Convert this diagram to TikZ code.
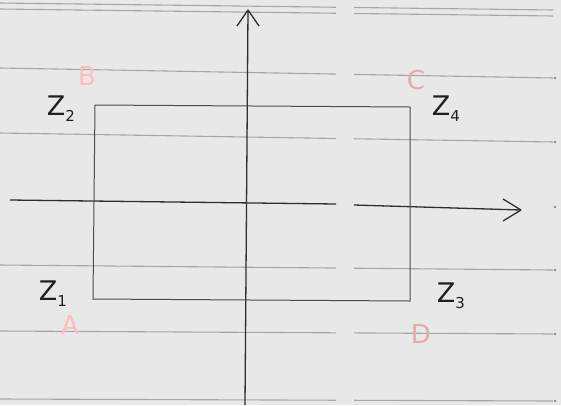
\documentclass[tikz,border=0pt]{standalone}
\usepackage{fontspec}
\setmainfont{DejaVu Sans}
\begin{document}
\begin{tikzpicture}[x=1pt,y=-1pt,
  rule/.style={draw=black!35, line width=1.1pt},
  axis/.style={draw=black!82, line width=1.3pt},
  boxline/.style={draw=black!70, line width=1pt},
  zlab/.style={font=\fontsize{27}{27}\selectfont, text=black!88, inner sep=0pt},
  ptlab/.style={font=\fontsize{26}{26}\selectfont, text=pink!70!red!55!white, inner sep=0pt},
  ptlabg/.style={font=\fontsize{26}{26}\selectfont, text=black!30!pink!80!red!55!white, inner sep=0pt}]
\useasboundingbox (0,0) rectangle (561,405);
\fill[black!9] (0,0) rectangle (561,405);
% ruled lines (with the small gap of the photo)
\foreach \yl/\yr in {3/10, 9/16, 68/78, 133/142, 265/270, 331/334, 399/401}{
  \draw[rule] (0,\yl) -- (336,{\yl+(\yr-\yl)*336/553});
  \draw[rule] (354,{\yl+(\yr-\yl)*354/553}) -- (553,\yr);
}
\foreach \yr in {78,142,207,270,334,401}{\fill[black!45] (555,\yr) circle (1.3pt);}
% axes
\coordinate (xs) at (10,200);
\coordinate (xg1) at (336,204);
\coordinate (xg2) at (354,205);
\coordinate (xe) at (521,210);
\coordinate (ys) at (245,405);
\coordinate (ye) at (248,10);
\draw[axis] (xs) -- (xg1);
\draw[axis] (xg2) -- (xe);
\draw[axis] (xe) -- ++(-18,-11) (xe) -- ++(-18,11);
\draw[axis] (ys) -- (ye);
\draw[axis] (ye) -- ++(-11,16) (ye) -- ++(11,16);
% rectangle
\coordinate (A) at (93,299);
\coordinate (B) at (95,105);
\coordinate (C) at (410,107);
\coordinate (D) at (410,301);
\draw[boxline] (A) -- (B) -- (C) -- (D) -- cycle;
% labels
\node[zlab] (z1) at (53,294) {Z\raisebox{-0.4ex}{\fontsize{15}{15}\selectfont 1}};
\node[zlab] (z2) at (61,109) {Z\raisebox{-0.4ex}{\fontsize{15}{15}\selectfont 2}};
\node[zlab] (z3) at (451,296) {Z\raisebox{-0.4ex}{\fontsize{15}{15}\selectfont 3}};
\node[zlab] (z4) at (446,109) {Z\raisebox{-0.4ex}{\fontsize{15}{15}\selectfont 4}};
\node[ptlab] (la) at (70,325) {A};
\node[ptlab] (lb) at (87,76) {B};
\node[ptlabg] (lc) at (416,80) {C};
\node[ptlabg] (ld) at (421,334) {D};
\end{tikzpicture}
\end{document}
